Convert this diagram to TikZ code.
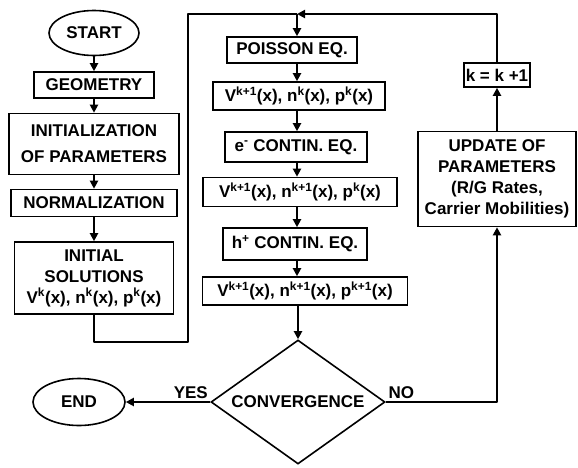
\documentclass[tikz,border=0pt]{standalone}
\usepackage{fontspec}
\setmainfont{Liberation Sans}
\usetikzlibrary{shapes.geometric,arrows.meta}
\begin{document}
\begin{tikzpicture}[x=1pt,y=-1pt,
	box/.style={draw,line width=1.6pt,align=center,inner sep=2pt,font=\fontsize{17}{21}\selectfont\bfseries},
	term/.style={draw,ellipse,line width=1.6pt,inner sep=0pt,font=\fontsize{17}{21}\selectfont\bfseries},
	decide/.style={draw,diamond,aspect=1.41,line width=1.6pt,inner sep=0pt,font=\fontsize{17}{21}\selectfont\bfseries},
	arr/.style={line width=2pt,line join=round,-{Triangle[length=8pt,width=8pt]}},
	link/.style={line width=2pt,line join=round},
	lbl/.style={font=\fontsize{17}{21}\selectfont\bfseries,inner sep=2pt}]
	\useasboundingbox (0,0) rectangle (578,467);
	
	% left column
	\node[term,minimum width=90pt,minimum height=45pt] (start) at (94,33) {START};
	\node[box,minimum width=120pt,minimum height=26pt] (geo) at (94,85) {GEOMETRY};
	\node[box,minimum width=170pt,minimum height=61pt] (init) at (94,144) {INITIALIZATION\\[5pt]OF PARAMETERS};
	\node[box,minimum width=166pt,minimum height=27pt] (norm) at (94,203) {NORMALIZATION};
	\node[box,minimum width=159pt,minimum height=72pt] (isol) at (94,278) {INITIAL\\SOLUTIONS\\V\textsuperscript{k}(x), n\textsuperscript{k}(x), p\textsuperscript{k}(x)};
	\node[term,minimum width=92pt,minimum height=47pt] (end) at (79,402) {END};
	
	% middle column
	\coordinate (jn) at (297,14);
	\coordinate (lp) at (188,342);
	\node[box,minimum width=130pt,minimum height=26pt] (poi) at (292,50) {POISSON EQ.};
	\node[box,minimum width=172pt,minimum height=28pt] (v1) at (299,96) {V\textsuperscript{k+1}(x), n\textsuperscript{k}(x), p\textsuperscript{k}(x)};
	\node[box,minimum width=142pt,minimum height=30pt] (econ) at (296,147) {e\textsuperscript{-} CONTIN. EQ.};
	\node[box,minimum width=194pt,minimum height=29pt] (v2) at (300,192) {V\textsuperscript{k+1}(x), n\textsuperscript{k+1}(x), p\textsuperscript{k}(x)};
	\node[box,minimum width=144pt,minimum height=32pt] (hcon) at (295,244) {h\textsuperscript{+} CONTIN. EQ.};
	\node[box,minimum width=205pt,minimum height=28pt] (v3) at (305,291) {V\textsuperscript{k+1}(x), n\textsuperscript{k+1}(x), p\textsuperscript{k+1}(x)};
	\node[decide,minimum width=174pt,minimum height=124pt] (conv) at (298,402) {CONVERGENCE};
	
	% right column
	\node[box,minimum width=64pt,minimum height=24pt] (kinc) at (497,75) {k = k +1};
	\node[box,minimum width=158pt,minimum height=95pt] (upd) at (497,179) {UPDATE OF\\PARAMETERS\\(R/G Rates,\\Carrier Mobilities)};
	
	% connectors
	\draw[arr] (start) -- (geo);
	\draw[arr] (geo) -- (init);
	\draw[arr] (init) -- (norm);
	\draw[arr] (norm) -- (isol);
	\draw[link] (isol.south) |- (lp) |- (jn);
	\draw[arr] (kinc.north) |- (jn);
	\draw[arr] (jn) -- (jn |- poi.north);
	\draw[arr] (poi.south -| jn) -- (v1.north -| jn);
	\draw[arr] (v1.south -| jn) -- (econ.north -| jn);
	\draw[arr] (econ.south -| jn) -- (v2.north -| jn);
	\draw[arr] (v2.south -| jn) -- (hcon.north -| jn);
	\draw[arr] (hcon.south -| jn) -- (v3.north -| jn);
	\draw[arr] (v3.south -| conv) -- (conv.north);
	\draw[arr] (conv.west) -- node[lbl,pos=0.23,above]{YES} (end.east);
	\draw[arr] (conv.east) -| node[lbl,pos=0.07,above]{NO} (upd.south);
	\draw[arr] (upd.north) -- (kinc.south);
\end{tikzpicture}
\end{document}
